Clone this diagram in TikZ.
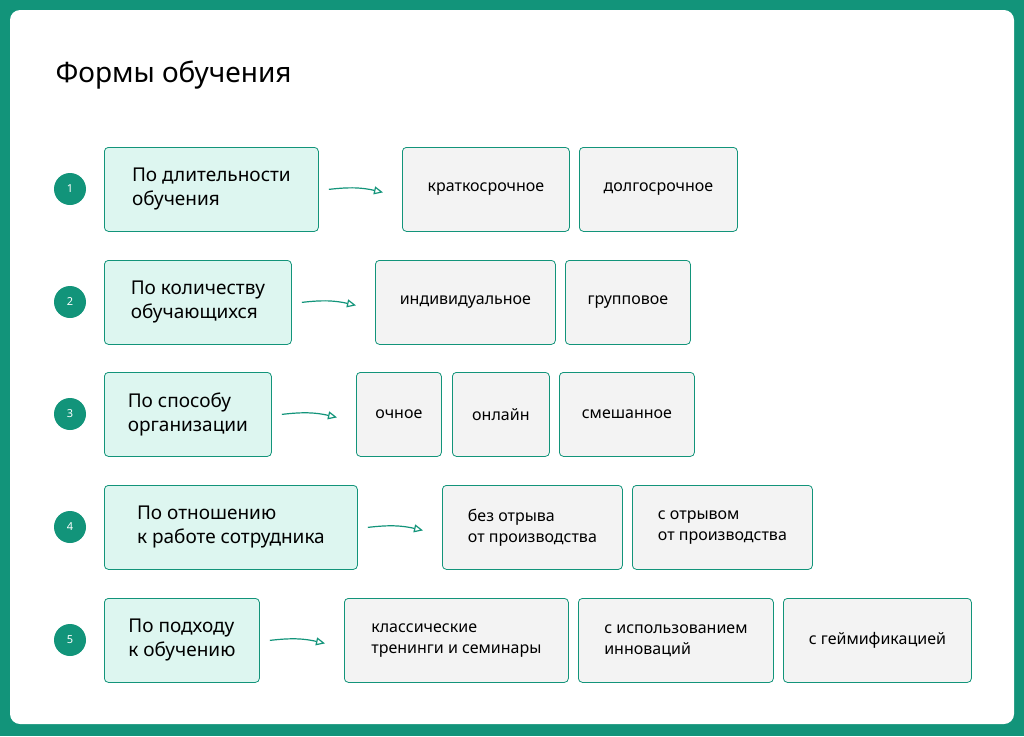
\documentclass[tikz,border=0pt]{standalone}
\usepackage{fontspec}
\setmainfont{Noto Sans}
\usetikzlibrary{arrows.meta}
\definecolor{teal1}{HTML}{12947A}
\definecolor{catfill}{HTML}{DDF6F0}
\definecolor{optfill}{HTML}{F3F3F3}
\begin{document}
\begin{tikzpicture}[x=1pt,y=-1pt]
  \tikzset{
    cat/.style={draw=teal1,fill=catfill,rounded corners=4pt,line width=0.8pt,anchor=north west,
      minimum height=84pt,inner xsep=17pt,align=left,font=\fontsize{19}{24}\selectfont},
    opt/.style={draw=teal1,fill=optfill,rounded corners=4pt,line width=0.8pt,anchor=north west,
      minimum height=84pt,inner xsep=0pt,align=left,font=\fontsize{16}{21}\selectfont},
    num/.style={circle,fill=teal1,text=white,minimum size=32pt,inner sep=0pt,font=\fontsize{11}{11}\selectfont},
    flow/.style={draw=teal1,line width=1.2pt,-{Triangle[open,length=9pt,width=8pt]}}
  }
  \fill[teal1] (0,0) rectangle (1024,736);
  \fill[white,rounded corners=10pt] (10,10) rectangle (1014,724);
  \node[anchor=west,font=\fontsize{28}{30}\selectfont\bfseries] (title) at (52,75) {Формы обучения};
  % row 1
  \node[num] (n1) at (70,189) {1};
  \node[cat,minimum width=214pt] (c1) at (104,147) {По длительности\\обучения};
  \node[opt,minimum width=167pt] (o11) at (402,147) {краткосрочное};
  \node[opt,minimum width=158pt] (o12) at (579,147) {долгосрочное};
  \draw[flow] ([xshift=10pt]c1.east) to[bend left=10] ([xshift=-19pt,yshift=-3pt]o11.west);
  % row 2
  \node[num] (n2) at (70,302) {2};
  \node[cat,minimum width=187pt] (c2) at (104,260) {По количеству\\обучающихся};
  \node[opt,minimum width=180pt] (o21) at (375,260) {индивидуальное};
  \node[opt,minimum width=125pt] (o22) at (565,260) {групповое};
  \draw[flow] ([xshift=10pt]c2.east) to[bend left=10] ([xshift=-19pt,yshift=-3pt]o21.west);
  % row 3
  \node[num] (n3) at (70,414) {3};
  \node[cat,minimum width=167pt] (c3) at (104,372) {По способу\\организации};
  \node[opt,minimum width=85pt] (o31) at (356,372) {очное};
  \node[opt,minimum width=97pt] (o32) at (452,372) {онлайн};
  \node[opt,minimum width=135pt] (o33) at (559,372) {смешанное};
  \draw[flow] ([xshift=10pt]c3.east) to[bend left=10] ([xshift=-19pt,yshift=-3pt]o31.west);
  % row 4
  \node[num] (n4) at (70,527) {4};
  \node[cat,minimum width=253pt] (c4) at (104,485) {По отношению\\к работе сотрудника};
  \node[opt,minimum width=180pt] (o41) at (442,485) {без отрыва\\от производства};
  \node[opt,minimum width=180pt] (o42) at (632,485) {с отрывом\\от производства};
  \draw[flow] ([xshift=10pt]c4.east) to[bend left=10] ([xshift=-19pt,yshift=-3pt]o41.west);
  % row 5
  \node[num] (n5) at (70,640) {5};
  \node[cat,minimum width=155pt] (c5) at (104,598) {По подходу\\к обучению};
  \node[opt,minimum width=224pt] (o51) at (344,598) {классические\\тренинги и семинары};
  \node[opt,minimum width=195pt] (o52) at (578,598) {с использованием\\инноваций};
  \node[opt,minimum width=188pt] (o53) at (783,598) {с геймификацией};
  \draw[flow] ([xshift=10pt]c5.east) to[bend left=10] ([xshift=-19pt,yshift=-3pt]o51.west);
\end{tikzpicture}
\end{document}
